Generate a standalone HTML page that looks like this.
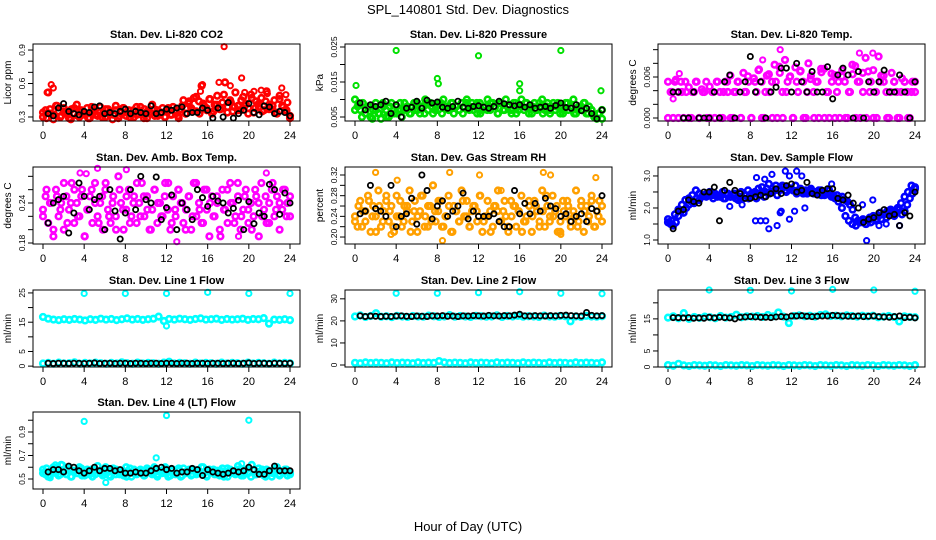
<!DOCTYPE html>
<html><head><meta charset="utf-8"><style>
html,body{margin:0;padding:0;background:#fff;}
svg{display:block;font-family:"Liberation Sans",Arial,sans-serif;}
</style></head><body>
<svg id="chart" width="936" height="540" viewBox="0 0 936 540" xmlns="http://www.w3.org/2000/svg">
<text x="468" y="14" font-size="13" text-anchor="middle">SPL_140801  Std. Dev. Diagnostics</text>
<text x="468" y="531" font-size="13" text-anchor="middle">Hour of Day (UTC)</text>
</svg>
<script>
// ---------- data ----------
const xTicks = [0,4,8,12,16,20,24];

const co2Main = [0.30,0.36,0.52,0.33,0.28,0.40,0.35,0.31,0.38,0.34,0.29,0.37,0.33,0.41,0.30,0.35,0.32,0.38,0.29,0.34,0.36,0.31,0.39,0.33,0.30,0.37,0.35,0.32,0.40,0.29,0.34,0.38,0.31,0.36,0.33,0.30,0.39,0.35,0.32,0.37,0.29,0.34,0.41,0.31,0.36,0.33,0.38,0.30,0.35,0.32,0.39,0.34,0.31,0.37,0.45,0.33,0.42,0.38,0.47,0.35,0.44,0.58,0.40,0.36,0.46,0.33,0.41,0.49,0.37,0.43,0.61,0.39,0.45,0.35,0.52,0.40,0.36,0.48,0.42,0.38,0.50,0.34,0.44,0.39,0.47,0.36,0.53,0.41,0.37,0.45,0.33,0.49,0.40,0.36,0.43,0.29];
const co2Second = [0.34,0.29,0.37,0.32,0.40,0.30,0.35,0.33,0.28,0.38,0.31,0.36,0.34,0.29,0.39,0.32,0.35,0.30,0.37,0.33,0.28,0.36,0.31,0.38,0.34,0.30,0.36,0.32,0.39,0.29,0.35,0.33,0.37,0.31,0.34,0.30,0.38,0.32,0.36,0.29,0.40,0.33,0.44,0.36,0.48,0.33,0.42,0.38,0.46,0.35,0.41,0.37,0.50,0.34,0.43,0.39,0.36,0.45,0.40,0.33,0.47,0.38,0.42,0.35,0.44,0.37,0.40,0.34,0.46,0.39,0.36,0.31];
const co2OutHours = [0.4,0.8,1.0,15.5,15.3,17.1,17.6,18.2,19.3,19.6,20.5,21.2,21.8,23.2,23.6];
const co2OutVals = [0.52,0.59,0.56,0.59,0.53,0.61,0.93,0.58,0.65,0.52,0.53,0.54,0.51,0.56,0.50];
const co2Black = [0.33,0.31,0.38,0.42,0.35,0.33,0.32,0.35,0.34,0.39,0.40,0.33,0.34,0.33,0.35,0.37,0.33,0.35,0.34,0.33,0.40,0.33,0.34,0.37,0.36,0.38,0.39,0.33,0.34,0.34,0.38,0.36,0.29,0.38,0.30,0.43,0.29,0.33,0.36,0.42,0.34,0.32,0.40,0.39,0.33,0.35,0.34,0.31];

const presMain = [0.010,0.008,0.007,0.009,0.006,0.008,0.005,0.007,0.009,0.006,0.0045,0.008,0.007,0.005,0.009,0.006,0.008,0.007,0.005,0.009,0.007,0.006,0.008,0.007,0.009,0.006,0.008,0.010,0.007,0.009,0.006,0.008,0.007,0.009,0.010,0.008,0.007,0.009,0.006,0.008,0.007,0.009,0.008,0.010,0.007,0.009,0.008,0.006,0.009,0.007,0.008,0.010,0.007,0.009,0.008,0.006,0.009,0.007,0.010,0.008,0.007,0.009,0.006,0.008,0.010,0.007,0.009,0.008,0.006,0.009,0.007,0.008,0.010,0.007,0.009,0.006,0.008,0.007,0.009,0.008,0.006,0.009,0.007,0.008,0.010,0.006,0.008,0.007,0.009,0.006,0.008,0.007,0.005,0.0045,0.006,0.007];
const presSecond = [0.007,0.009,0.005,0.006,0.008,0.0045,0.007,0.006,0.009,0.005,0.008,0.007,0.006,0.009,0.007,0.008,0.006,0.009,0.007,0.008,0.006,0.009,0.008,0.007,0.009,0.006,0.008,0.007,0.009,0.008,0.007,0.006,0.009,0.008,0.007,0.009,0.006,0.008,0.007,0.009,0.008,0.006,0.009,0.007,0.008,0.006,0.009,0.007,0.008,0.009,0.006,0.008,0.007,0.009,0.006,0.008,0.007,0.009,0.008,0.006,0.007,0.009,0.008,0.006,0.007,0.008,0.009,0.006,0.007,0.005,0.006,0.0045];
const presOutHours = [0.1,4.0,8.0,8.1,12.0,16.0,16.0,20.0,23.9];
const presOutVals = [0.014,0.024,0.016,0.0145,0.0225,0.0145,0.0125,0.024,0.0125];
const presBlack = [0.009,0.007,0.0085,0.008,0.0085,0.0095,0.006,0.0085,0.005,0.0075,0.0078,0.0095,0.0075,0.0098,0.009,0.0093,0.0078,0.0075,0.008,0.0095,0.0078,0.0075,0.008,0.0082,0.0078,0.0075,0.008,0.0095,0.0088,0.0085,0.0082,0.0085,0.0078,0.0085,0.0075,0.0078,0.008,0.0075,0.0083,0.009,0.0077,0.0075,0.0085,0.0068,0.0075,0.006,0.0045,0.007];

const tempMain = [0.0053,0.0038,0.0,0.0056,0.0038,0.0053,0.0,0.0038,0.0045,0.0,0.0038,0.0053,0.0,0.0042,0.0038,0.0,0.0046,0.0038,0.0,0.0053,0.0038,0.0,0.0053,0.0038,0.0062,0.0,0.0038,0.0053,0.0,0.0066,0.0038,0.0053,0.0,0.0058,0.0038,0.0071,0.0053,0.0,0.0062,0.0038,0.0053,0.0078,0.0,0.0066,0.0038,0.0085,0.0053,0.0061,0.0,0.0074,0.0038,0.0069,0.0053,0.0,0.0080,0.0062,0.0038,0.0053,0.0,0.0067,0.0072,0.0038,0.0,0.0053,0.0063,0.0038,0.0,0.0070,0.0053,0.0,0.0038,0.0064,0.0076,0.0053,0.0,0.0038,0.0088,0.0068,0.0053,0.0,0.0038,0.0090,0.0062,0.0053,0.0038,0.0,0.0066,0.0053,0.0038,0.0,0.0058,0.0053,0.0038,0.0,0.0053,0.0038];
const tempSecond = [0.0,0.0038,0.0053,0.0,0.0038,0.0053,0.0,0.0038,0.0053,0.0,0.0038,0.0053,0.0,0.0038,0.0053,0.0,0.0038,0.0053,0.0,0.0038,0.0053,0.0,0.0038,0.0061,0.0,0.0053,0.0070,0.0,0.0038,0.0064,0.0,0.0053,0.0075,0.0,0.0038,0.0060,0.0,0.0053,0.0068,0.0,0.0038,0.0057,0.0,0.0053,0.0072,0.0,0.0038,0.0065,0.0,0.0053,0.0061,0.0,0.0038,0.0078,0.0,0.0053,0.0066,0.0,0.0038,0.0070,0.0,0.0053,0.0062,0.0,0.0038,0.0053,0.0,0.0038,0.0053,0.0,0.0038,0.0053];
const tempOutHours = [0.5,1.1,10.9,18.6,19.9,9.2];
const tempOutVals = [0.0028,0.0065,0.010,0.0095,0.0095,0.0085];
const tempBlack = [0.0038,0.0038,0.0,0.0,0.0038,0.0,0.0,0.0,0.0038,0.0,0.0053,0.0063,0.0,0.0038,0.0053,0.0090,0.0038,0.0053,0.0,0.0038,0.0045,0.0073,0.0073,0.0038,0.0080,0.0053,0.0038,0.0068,0.0038,0.0038,0.0075,0.0028,0.0063,0.0073,0.0063,0.0,0.0068,0.0,0.0053,0.0038,0.0053,0.0070,0.0038,0.0038,0.0063,0.0038,0.0,0.0053];

const ambMain = [0.23,0.25,0.21,0.24,0.19,0.26,0.22,0.24,0.20,0.25,0.23,0.27,0.21,0.24,0.22,0.26,0.19,0.23,0.25,0.21,0.27,0.22,0.24,0.20,0.26,0.23,0.21,0.25,0.22,0.28,0.24,0.20,0.23,0.26,0.22,0.25,0.21,0.24,0.27,0.22,0.25,0.20,0.23,0.26,0.21,0.24,0.22,0.27,0.23,0.20,0.25,0.22,0.26,0.24,0.21,0.23,0.25,0.20,0.27,0.22,0.24,0.21,0.26,0.23,0.19,0.25,0.22,0.24,0.20,0.26,0.23,0.21,0.27,0.24,0.22,0.25,0.20,0.23,0.26,0.21,0.24,0.22,0.25,0.19,0.27,0.23,0.21,0.24,0.26,0.22,0.25,0.20,0.23,0.26,0.24,0.22];
const ambSecond = [0.22,0.26,0.24,0.20,0.25,0.23,0.27,0.21,0.24,0.26,0.22,0.25,0.19,0.23,0.26,0.24,0.21,0.25,0.27,0.22,0.24,0.20,0.26,0.23,0.25,0.21,0.24,0.27,0.22,0.25,0.23,0.20,0.26,0.24,0.22,0.25,0.27,0.21,0.23,0.26,0.24,0.20,0.25,0.22,0.27,0.23,0.21,0.26,0.24,0.22,0.25,0.19,0.23,0.26,0.24,0.21,0.27,0.22,0.25,0.23,0.20,0.26,0.24,0.22,0.25,0.21,0.27,0.23,0.24,0.26,0.22,0.25];
const ambOutHours = [3.6,4.2,5.3,8.1,13.0,21.7,19.0,6.0];
const ambOutVals = [0.285,0.284,0.292,0.29,0.182,0.285,0.19,0.20];
const ambBlack = [0.21,0.24,0.245,0.25,0.195,0.225,0.27,0.25,0.23,0.245,0.25,0.20,0.26,0.228,0.186,0.225,0.26,0.23,0.28,0.245,0.24,0.279,0.215,0.233,0.252,0.20,0.24,0.23,0.215,0.26,0.248,0.235,0.25,0.243,0.24,0.225,0.232,0.244,0.20,0.242,0.209,0.225,0.22,0.268,0.26,0.223,0.255,0.24];

const rhMain = [0.24,0.22,0.27,0.25,0.23,0.28,0.21,0.26,0.24,0.29,0.22,0.25,0.27,0.23,0.26,0.21,0.28,0.24,0.22,0.26,0.25,0.29,0.23,0.27,0.21,0.25,0.28,0.24,0.22,0.26,0.30,0.23,0.25,0.27,0.22,0.24,0.28,0.21,0.26,0.25,0.23,0.29,0.24,0.27,0.22,0.25,0.26,0.23,0.28,0.21,0.24,0.27,0.25,0.22,0.26,0.29,0.23,0.25,0.24,0.21,0.27,0.26,0.22,0.25,0.28,0.23,0.24,0.26,0.21,0.27,0.25,0.23,0.29,0.22,0.26,0.24,0.28,0.25,0.21,0.23,0.27,0.24,0.26,0.22,0.25,0.29,0.23,0.27,0.21,0.26,0.24,0.28,0.22,0.25,0.27,0.23];
const rhSecond = [0.23,0.26,0.22,0.25,0.27,0.24,0.21,0.26,0.23,0.28,0.25,0.22,0.24,0.27,0.23,0.26,0.21,0.25,0.24,0.28,0.22,0.26,0.23,0.25,0.27,0.22,0.24,0.26,0.21,0.25,0.23,0.27,0.24,0.22,0.26,0.25,0.28,0.23,0.24,0.21,0.26,0.25,0.23,0.27,0.22,0.24,0.26,0.25,0.21,0.23,0.27,0.24,0.26,0.22,0.25,0.28,0.23,0.24,0.26,0.21,0.25,0.27,0.23,0.24,0.22,0.26,0.25,0.23,0.27,0.22,0.24,0.26];
const rhOutHours = [2.0,4.1,8.5,9.2,12.1,14.2,18.3,19.0,23.4,3.5,20.0];
const rhOutVals = [0.325,0.31,0.193,0.325,0.32,0.29,0.325,0.32,0.315,0.205,0.205];
const rhBlack = [0.245,0.25,0.30,0.255,0.25,0.24,0.30,0.22,0.24,0.245,0.275,0.225,0.32,0.29,0.235,0.26,0.27,0.24,0.25,0.26,0.285,0.235,0.25,0.24,0.24,0.24,0.245,0.23,0.22,0.22,0.29,0.245,0.265,0.245,0.265,0.25,0.275,0.26,0.255,0.24,0.245,0.23,0.24,0.245,0.23,0.255,0.25,0.28];

const flowMain = [1.65,1.5,1.45,1.55,1.75,1.9,1.85,2.0,2.1,2.2,2.15,2.3,2.25,2.35,2.4,2.45,2.5,2.4,2.45,2.35,2.4,2.5,2.3,2.45,2.35,2.4,2.3,2.25,2.35,2.3,2.4,2.3,2.35,2.45,2.3,2.4,2.5,2.35,2.6,2.45,2.5,2.55,2.4,2.6,2.7,2.55,2.65,2.6,2.55,2.7,2.5,2.6,2.45,2.55,2.5,2.6,2.45,2.5,2.55,2.4,2.5,2.45,2.55,2.4,2.35,2.4,2.3,2.35,2.25,2.2,2.1,1.95,1.7,1.6,1.55,1.65,1.5,1.6,1.55,1.7,1.6,1.75,1.65,1.8,1.7,1.85,1.9,1.75,1.85,1.95,1.8,1.9,2.1,2.3,2.45,2.6];
const flowSecond = [1.55,1.6,1.8,1.95,2.1,2.25,2.3,2.4,2.55,2.45,2.4,2.35,2.45,2.3,2.4,2.35,2.3,2.4,2.35,2.45,2.3,2.5,2.4,2.55,2.45,2.5,2.6,2.65,2.5,2.75,2.6,2.7,2.55,2.65,2.5,2.6,2.55,2.45,2.55,2.5,2.45,2.55,2.5,2.45,2.55,2.4,2.45,2.35,2.3,2.2,2.0,1.75,1.6,1.5,1.45,1.55,1.6,1.5,1.7,1.75,1.65,1.85,1.8,1.9,1.95,1.85,2.0,2.15,2.35,2.5,2.7,2.65];
const flowOutHours = [8.6,9.0,9.4,9.8,10.6,11.0,11.4,11.8,12.5,13.0,8.5,9.5,10.1,10.9,11.8,12.3,19.3,18.9,19.9,20.5,21.2,22.5,15.9,7.2,6.0,13.3];
const flowOutVals = [2.95,1.6,2.9,1.35,1.45,1.9,3.15,1.65,3.15,3.0,1.6,1.6,3.05,1.85,3.0,1.9,0.98,2.1,2.25,1.45,1.5,1.45,2.75,2.1,2.05,2.0];
const flowBlack = [1.35,1.9,1.95,2.25,2.2,2.15,2.5,2.5,2.65,1.6,2.55,2.8,2.55,2.45,2.3,2.3,2.35,2.4,2.35,2.45,2.6,2.45,2.7,2.75,2.5,2.55,2.8,2.45,2.4,2.55,2.6,2.6,2.3,2.25,2.4,2.15,2.0,1.55,1.65,1.7,1.85,1.95,1.75,1.8,1.45,1.85,1.75,2.5];

const l1High = [16.8,16.2,15.9,15.7,16.0,15.8,16.1,15.9,15.6,16.0,15.8,16.2,15.9,16.1,15.7,16.0,16.3,15.9,16.1,15.8,16.0,16.2,16.9,15.4,16.1,15.9,16.2,16.0,15.8,16.1,16.3,15.9,16.0,16.2,15.8,16.1,15.9,16.0,16.2,15.8,16.1,16.0,16.4,14.5,15.9,15.8,16.0,15.7];
const l1Low = [0.9,1.1,0.8,1.2,0.9,1.0,1.3,0.8,1.1,0.9,1.2,1.0,0.8,1.1,0.9,1.3,1.0,0.8,1.2,0.9,1.1,1.0,0.8,1.2,1.5,0.9,1.1,1.0,0.8,1.2,0.9,1.1,1.0,0.8,1.2,0.9,1.1,1.0,0.8,1.2,0.9,1.1,1.0,0.8,1.2,0.9,1.1,1.0];
const l1OutHours = [4,8,12,16,20,24,12.0];
const l1OutVals = [24.8,24.8,24.8,25.2,24.8,24.8,13.7];
const l1Black = [1.0,0.9,1.0,1.0,0.9,1.0,1.0,0.9,1.0,1.1,0.9,1.0,1.0,0.9,1.0,1.0,0.9,1.0,1.0,0.9,1.0,1.0,0.9,1.0,1.0,0.9,1.0,1.0,0.9,1.0,1.0,0.9,1.0,1.0,0.9,1.0,1.0,0.9,1.0,1.1,0.9,1.0,1.0,0.9,1.0,1.0,0.9,1.0];

const l2High = [22.0,22.5,21.8,22.2,23.5,21.9,22.1,21.7,22.3,22.0,21.8,22.2,22.0,21.9,22.4,22.1,21.8,22.0,22.6,21.9,22.2,22.0,21.8,22.3,22.1,21.9,22.0,22.5,21.8,22.2,22.0,22.3,21.9,22.1,22.0,21.8,22.4,22.0,21.9,22.2,22.1,19.8,22.0,21.8,22.3,22.0,21.9,22.1];
const l2Low = [1.0,0.8,1.2,0.9,1.1,1.0,0.8,1.2,0.9,1.1,1.0,0.8,1.2,0.9,1.1,1.0,1.8,1.2,0.9,1.1,1.0,0.8,1.2,0.9,1.1,1.0,0.8,1.2,0.9,1.1,1.0,0.8,1.2,0.9,1.1,1.0,0.8,1.2,0.9,1.1,1.0,0.8,1.2,0.9,1.1,1.0,0.8,1.2];
const l2OutHours = [4,8,12,16,20,24];
const l2OutVals = [32.5,32.5,32.8,33.2,32.5,32.3];
const l2Black = [22.3,22.0,22.2,22.1,22.0,22.1,22.0,22.2,22.3,22.1,22.0,22.2,22.1,22.0,22.3,22.2,22.4,22.1,22.2,22.0,22.3,22.2,22.4,22.3,22.2,22.5,22.3,22.2,22.4,22.3,22.6,23.0,22.3,22.2,22.4,22.3,22.2,22.4,22.3,22.5,22.6,22.4,22.3,22.2,23.8,22.5,22.3,22.4];

const l3High = [15.4,15.8,15.2,16.8,15.0,15.6,15.3,15.7,15.5,15.2,15.9,15.4,15.6,16.3,15.5,15.8,15.7,15.9,15.6,16.2,15.8,17.0,15.7,13.7,15.9,16.1,15.8,16.0,15.7,16.2,16.4,15.9,16.0,15.8,16.1,15.9,15.7,16.0,15.8,16.0,15.5,15.7,15.9,15.6,14.2,15.8,15.6,15.5];
const l3Low = [0.6,0.4,1.0,0.5,0.3,0.6,0.5,0.4,0.6,0.5,0.3,0.6,0.5,0.4,0.6,0.5,0.3,0.6,0.5,0.4,0.6,0.5,0.3,0.6,0.5,0.4,0.6,0.5,0.3,0.6,0.5,0.4,0.6,0.5,0.3,0.6,0.5,0.4,0.6,0.5,0.3,0.6,0.5,0.4,0.6,0.5,0.3,0.6];
const l3OutHours = [4,8,12,16,20,24];
const l3OutVals = [24.0,23.9,23.7,24.2,24.0,23.6];
const l3Black = [15.4,15.4,15.3,15.4,15.2,15.3,15.2,15.5,15.3,15.5,15.4,15.3,15.0,15.5,15.6,15.7,15.6,15.5,15.5,15.4,15.6,15.7,15.6,15.9,15.9,16.0,15.8,15.7,15.8,15.9,15.9,16.1,16.0,15.9,15.8,15.8,15.9,15.7,15.8,15.9,15.7,15.6,15.5,15.7,15.9,15.4,15.5,15.3];

const l4Main = [0.58,0.54,0.52,0.57,0.60,0.55,0.53,0.62,0.56,0.54,0.59,0.52,0.57,0.55,0.60,0.53,0.56,0.58,0.54,0.52,0.57,0.61,0.55,0.53,0.58,0.56,0.52,0.59,0.54,0.57,0.55,0.53,0.60,0.56,0.52,0.58,0.54,0.57,0.55,0.53,0.59,0.56,0.54,0.58,0.52,0.57,0.55,0.60,0.56,0.53,0.58,0.54,0.57,0.52,0.59,0.55,0.56,0.53,0.58,0.54,0.57,0.60,0.55,0.52,0.58,0.56,0.54,0.57,0.53,0.59,0.55,0.52,0.58,0.56,0.54,0.61,0.55,0.53,0.58,0.56,0.52,0.57,0.54,0.59,0.55,0.53,0.58,0.56,0.52,0.57,0.60,0.54,0.56,0.58,0.53,0.55];
const l4Second = [0.55,0.59,0.53,0.57,0.60,0.54,0.56,0.58,0.52,0.57,0.55,0.59,0.53,0.56,0.58,0.54,0.57,0.55,0.60,0.53,0.56,0.58,0.54,0.57,0.52,0.59,0.55,0.56,0.58,0.53,0.57,0.55,0.60,0.54,0.56,0.58,0.52,0.57,0.55,0.59,0.53,0.56,0.58,0.54,0.57,0.55,0.60,0.53,0.56,0.58,0.54,0.57,0.52,0.59,0.55,0.56,0.58,0.53,0.57,0.55,0.62,0.54,0.56,0.58,0.52,0.57,0.55,0.59,0.53,0.56,0.58,0.54];
const l4OutHours = [4,12,20,11,19.3,6.1,1.2,1.9,0.7];
const l4OutVals = [0.99,1.04,1.0,0.68,0.63,0.47,0.62,0.62,0.51];
const l4Black = [0.56,0.58,0.58,0.56,0.61,0.60,0.57,0.55,0.57,0.60,0.57,0.59,0.59,0.57,0.58,0.55,0.55,0.56,0.55,0.55,0.57,0.59,0.60,0.58,0.59,0.55,0.56,0.56,0.59,0.58,0.53,0.58,0.56,0.55,0.54,0.55,0.57,0.56,0.57,0.60,0.58,0.54,0.54,0.57,0.61,0.57,0.57,0.57];

// ---------- layout/config ----------
const colLefts = [33,345,658];
const rowTops = [44,167,290,412];
const boxW = 267, boxH = 77;
const panels = [
 {name:'co2',title:'Stan. Dev. Li-820 CO2',ylab:'Licor ppm',c:0,r:0,d:[0.264,0.954],ticks:[0.3,0.4,0.5,0.6,0.7,0.8,0.9],labels:['0.3','','','0.6','','','0.9'],color:'#ff0000',series:[co2Main,co2Second],outH:co2OutHours,outV:co2OutVals,black:co2Black},
 {name:'pressure',title:'Stan. Dev. Li-820 Pressure',ylab:'kPa',c:1,r:0,d:[0.00386,0.02586],ticks:[0.005,0.01,0.015,0.02,0.025],labels:['0.005','','0.015','','0.025'],color:'#00e000',series:[presMain,presSecond],outH:presOutHours,outV:presOutVals,black:presBlack},
 {name:'temp',title:'Stan. Dev. Li-820 Temp.',ylab:'degrees C',c:2,r:0,d:[-0.00044,0.01083],ticks:[0,0.002,0.004,0.006,0.008,0.010],labels:['0.000','','','0.006','',''],color:'#ff00ff',series:[tempMain,tempSecond],outH:tempOutHours,outV:tempOutVals,black:tempBlack},
 {name:'amb-box',title:'Stan. Dev. Amb. Box Temp.',ylab:'degrees C',c:0,r:1,d:[0.1785,0.294],ticks:[0.18,0.20,0.22,0.24,0.26,0.28],labels:['0.18','','','0.24','',''],color:'#ff00ff',series:[ambMain,ambSecond],outH:ambOutHours,outV:ambOutVals,black:ambBlack},
 {name:'rh',title:'Stan. Dev. Gas Stream RH',ylab:'percent',c:1,r:1,d:[0.1865,0.3355],ticks:[0.20,0.22,0.24,0.26,0.28,0.30,0.32],labels:['0.20','','0.24','','0.28','','0.32'],color:'#ffa000',series:[rhMain,rhSecond],outH:rhOutHours,outV:rhOutVals,black:rhBlack},
 {name:'sample-flow',title:'Stan. Dev. Sample Flow',ylab:'ml/min',c:2,r:1,d:[0.875,3.28],ticks:[1.0,1.5,2.0,2.5,3.0],labels:['1.0','','2.0','','3.0'],color:'#0000ff',series:[flowMain,flowSecond],outH:flowOutHours,outV:flowOutVals,black:flowBlack},
 {name:'line1',title:'Stan. Dev. Line 1 Flow',ylab:'ml/min',c:0,r:2,d:[-0.3,26],ticks:[0,5,10,15,20,25],labels:['0','5','','15','','25'],color:'#00ffff',series:[l1High,l1Low],outH:l1OutHours,outV:l1OutVals,black:l1Black},
 {name:'line2',title:'Stan. Dev. Line 2 Flow',ylab:'ml/min',c:1,r:2,d:[-0.9,34],ticks:[0,10,20,30],labels:['0','10','20','30'],color:'#00ffff',series:[l2High,l2Low],outH:l2OutHours,outV:l2OutVals,black:l2Black},
 {name:'line3',title:'Stan. Dev. Line 3 Flow',ylab:'ml/min',c:2,r:2,d:[0,24],ticks:[0,5,10,15,20],labels:['0','5','','15',''],color:'#00ffff',series:[l3High,l3Low],outH:l3OutHours,outV:l3OutVals,black:l3Black},
 {name:'line4',title:'Stan. Dev. Line 4 (LT) Flow',ylab:'ml/min',c:0,r:3,d:[0.415,1.07],ticks:[0.5,0.6,0.7,0.8,0.9,1.0],labels:['0.5','','0.7','','0.9',''],color:'#00ffff',series:[l4Main,l4Second],outH:l4OutHours,outV:l4OutVals,black:l4Black}
];

const NS='http://www.w3.org/2000/svg';
const svg=document.getElementById('chart');
function mk(tag,attrs,parent){const e=document.createElementNS(NS,tag);for(const k in attrs)e.setAttribute(k,attrs[k]);(parent||svg).appendChild(e);return e;}

panels.forEach(p=>{
  const L=colLefts[p.c], T=rowTops[p.r], B=T+boxH;
  const xs=h=>L+10+h*(boxW-20)/24;
  const ys=v=>B-(v-p.d[0])/(p.d[1]-p.d[0])*boxH;
  const g=mk('g',{});
  
  
  const t=mk('text',{x:L+boxW/2,y:T-6,'font-size':11,'font-weight':'bold','text-anchor':'middle'},g);
  t.textContent=p.title;
  
  
  const yl=mk('text',{transform:`translate(${L-22},${T+boxH/2}) rotate(-90)`,'font-size':10,'text-anchor':'middle'},g);
  yl.textContent=p.ylab;
  
  
  const xa=mk('g',{},g);
  
  
  mk('line',{x1:xs(0),x2:xs(24),y1:B,y2:B,stroke:'#000','stroke-width':1},xa);
  xTicks.forEach(h=>{
    mk('line',{x1:xs(h),x2:xs(h),y1:B,y2:B+5,stroke:'#000'},xa);
    const tl=mk('text',{x:xs(h),y:B+18,'font-size':11,'text-anchor':'middle'},xa);
    tl.textContent=h;
    
    
  });
  const ya=mk('g',{},g);
  
  
  mk('line',{x1:L,x2:L,y1:ys(p.ticks[0]),y2:ys(p.ticks[p.ticks.length-1]),stroke:'#000'},ya);
  p.ticks.forEach((v,i)=>{
    mk('line',{x1:L-5,x2:L,y1:ys(v),y2:ys(v),stroke:'#000'},ya);
    if(p.labels[i]){
      const tl=mk('text',{transform:`translate(${L-8},${ys(v)}) rotate(-90)`,'font-size':8.5,'text-anchor':'middle'},ya);
      tl.textContent=p.labels[i];
      
      
    }
  });
  const pts=mk('g',{fill:'none'},g);
  
  
  p.series.forEach(arr=>{
    arr.forEach((v,i)=>{
      const c=mk('circle',{cx:xs(i*24/(arr.length-1)),cy:ys(v),r:2.8,stroke:p.color,'stroke-width':2.6},pts);
      
      
    });
  });
  p.outH.forEach((h,i)=>{
    const c=mk('circle',{cx:xs(h),cy:ys(p.outV[i]),r:2.6,stroke:p.color,'stroke-width':2},pts);
    
    
  });
  p.black.forEach((v,i)=>{
    const c=mk('circle',{cx:xs((i+1)*24/(p.black.length)),cy:ys(v),r:2.6,stroke:'#000','stroke-width':1.8},pts);
    
    
  });
  const box=mk('rect',{x:L,y:T,width:boxW,height:boxH,fill:'none',stroke:'#000','stroke-width':1},g);
  
  
});
</script>
</body></html>
